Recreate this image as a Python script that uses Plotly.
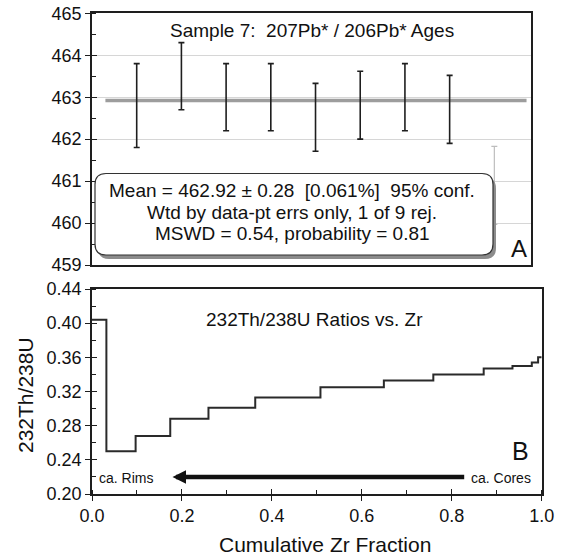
import plotly.graph_objects as go

W, H = 565, 556
FONT = "Liberation Sans, Arial, Helvetica, sans-serif"
DARK = "#1e1e1e"

# ---------------- Panel A data: 207Pb*/206Pb* ages ----------------
spot = [1, 2, 3, 4, 5, 6, 7, 8, 9]
age = [462.8, 463.5, 463.0, 463.0, 462.52, 462.81, 463.0, 462.71, 460.9]
age_err = [1.0, 0.8, 0.8, 0.8, 0.81, 0.81, 0.8, 0.81, 0.93]
rejected = [False, False, False, False, False, False, False, False, True]
mean_age = 462.92
mean_span = [0.3, 9.72]

# ---------------- Panel B data: Th/U vs cumulative Zr ----------------
zr_edges = [0.0, 0.032, 0.097, 0.174, 0.259, 0.363, 0.508, 0.649, 0.759,
            0.871, 0.935, 0.978, 0.992, 1.0]
thu = [0.404, 0.250, 0.268, 0.288, 0.301, 0.313, 0.325, 0.333, 0.340,
       0.347, 0.350, 0.354, 0.360]

info_lines = ["Mean = 462.92 \u00b1 0.28  [0.061%]  95% conf.",
              "Wtd by data-pt errs only, 1 of 9 rej.",
              "MSWD = 0.54, probability = 0.81"]


def px(x):
    return x / W


def py(y):
    return 1 - y / H


def rounded_path(x0, y0, x1, y1, r):
    def P(x, y):
        return f"{px(x):.5f},{py(y):.5f}"
    return (f"M {P(x0 + r, y0)} L {P(x1 - r, y0)} Q {P(x1, y0)} {P(x1, y0 + r)} "
            f"L {P(x1, y1 - r)} Q {P(x1, y1)} {P(x1 - r, y1)} "
            f"L {P(x0 + r, y1)} Q {P(x0, y1)} {P(x0, y1 - r)} "
            f"L {P(x0, y0 + r)} Q {P(x0, y0)} {P(x0 + r, y0)} Z")


fig = go.Figure()

# mean line
fig.add_trace(go.Scatter(x=mean_span, y=[mean_age, mean_age], mode="lines",
                         line=dict(color="#9d9d9d", width=3.5),
                         xaxis="x", yaxis="y", hoverinfo="skip"))

acc_x = [s for s, r in zip(spot, rejected) if not r]
acc_y = [a for a, r in zip(age, rejected) if not r]
acc_e = [e for e, r in zip(age_err, rejected) if not r]
rej_x = [s for s, r in zip(spot, rejected) if r]
rej_y = [a for a, r in zip(age, rejected) if r]
rej_e = [e for e, r in zip(age_err, rejected) if r]

fig.add_trace(go.Scatter(x=rej_x, y=rej_y, mode="markers",
                         marker=dict(size=1, color="rgba(0,0,0,0)"),
                         error_y=dict(type="data", array=rej_e, color="#bdbdbd",
                                      thickness=1.2, width=3),
                         xaxis="x", yaxis="y"))
fig.add_trace(go.Scatter(x=acc_x, y=acc_y, mode="markers",
                         marker=dict(size=1, color="rgba(0,0,0,0)"),
                         error_y=dict(type="data", array=acc_e, color=DARK,
                                      thickness=1.6, width=3),
                         xaxis="x", yaxis="y"))

# step line
fig.add_trace(go.Scatter(x=zr_edges, y=thu + [thu[-1]], mode="lines",
                         line=dict(color="#2a2a2a", width=2, shape="hv"),
                         xaxis="x2", yaxis="y2"))

# invisible traces to activate overlay tick axes
fig.add_trace(go.Scatter(x=[None], y=[None], xaxis="x", yaxis="y3", showlegend=False))
fig.add_trace(go.Scatter(x=[None], y=[None], xaxis="x3", yaxis="y2", showlegend=False))
fig.add_trace(go.Scatter(x=[None], y=[None], xaxis="x2", yaxis="y4", showlegend=False))

tickfont = dict(family=FONT, size=18, color="#111")
common = dict(showline=True, linecolor=DARK, linewidth=1.5, showgrid=False,
              zeroline=False, automargin=False, tickcolor=DARK, tickwidth=1.3)
overlay_common = dict(showline=False, showgrid=False, zeroline=False,
                      automargin=False, ticks="inside", ticklen=5, tickcolor=DARK,
                      tickwidth=1.3, showticklabels=False)

dxA = [92 / W, 531 / W]
dyA = [py(265), py(13.3)]
dxB = [92 / W, 541.7 / W]
dyB = [py(494), py(289)]

fig.update_layout(
    width=W, height=H, margin=dict(l=0, r=0, t=0, b=0),
    paper_bgcolor="white", plot_bgcolor="white", showlegend=False,
    font=dict(family=FONT, color="#111"),
    xaxis=dict(domain=dxA, anchor="y", range=[0, 9.82], showticklabels=False,
               ticks="", mirror=True, **common),
    yaxis=dict(domain=dyA, anchor="x", range=[459, 465], dtick=1, tick0=459,
               ticks="outside", ticklen=5, mirror=True, tickfont=tickfont,
               minor=dict(ticks="inside", ticklen=4, dtick=0.5, tick0=459,
                          tickcolor=DARK, showgrid=False),
               **{k: v for k, v in common.items() if k != "showgrid"},
               showgrid=True, gridcolor="#d6d6d6", gridwidth=1),
    yaxis3=dict(overlaying="y", side="left", anchor="x", range=[459, 465],
                dtick=1, tick0=459, **overlay_common),
    xaxis2=dict(domain=dxB, anchor="y2", range=[0, 1], dtick=0.2, tick0=0,
                tickformat=".1f", ticks="outside", ticklen=5, mirror=True,
                tickfont=tickfont,
                minor=dict(ticks="inside", ticklen=4, dtick=0.1, tick0=0,
                           tickcolor=DARK),
                **common),
    xaxis3=dict(overlaying="x2", side="bottom", anchor="y2", range=[0, 1],
                dtick=0.2, tick0=0, **overlay_common),
    yaxis2=dict(domain=dyB, anchor="x2", range=[0.2, 0.44], dtick=0.04, tick0=0.2,
                tickformat=".2f", ticks="outside", ticklen=5, mirror=True,
                tickfont=tickfont,
                minor=dict(ticks="inside", ticklen=4, dtick=0.02, tick0=0.2,
                           tickcolor=DARK),
                **common),
    yaxis4=dict(overlaying="y2", side="left", anchor="x2", range=[0.2, 0.44],
                dtick=0.04, tick0=0.2, **overlay_common),
)

# info box with shadow
bx0, by0, bx1, by1, rr = 95, 173.5, 493, 255, 11
fig.add_shape(type="path", xref="paper", yref="paper",
              path=rounded_path(bx0 + 3, by0 + 4, bx1 + 3, by1 + 4, rr),
              fillcolor="#8c8c8c", line=dict(width=0), layer="above")
fig.add_shape(type="path", xref="paper", yref="paper",
              path=rounded_path(bx0, by0, bx1, by1, rr),
              fillcolor="white", line=dict(color="#333", width=1.2), layer="above")

ann = []
for t, yy in zip(info_lines, [190.7, 212.3, 233.6]):
    ann.append(dict(text=t, x=px(292), y=py(yy), xref="paper", yref="paper",
                    xanchor="center", yanchor="middle", showarrow=False,
                    font=dict(size=19, family=FONT, color="#111")))

ann += [
    dict(text="Sample 7:  207Pb* / 206Pb* Ages", x=px(312), y=py(30),
         xref="paper", yref="paper", xanchor="center", yanchor="middle",
         showarrow=False, font=dict(size=19, family=FONT, color="#111")),
    dict(text="A", x=px(529), y=py(248), xref="paper", yref="paper",
         xanchor="right", yanchor="middle", showarrow=False,
         font=dict(size=24, family=FONT, color="#111")),
    dict(text="232Th/238U Ratios vs. Zr", x=px(314), y=py(319),
         xref="paper", yref="paper", xanchor="center", yanchor="middle",
         showarrow=False, font=dict(size=19, family=FONT, color="#111")),
    dict(text="B", x=px(531), y=py(451), xref="paper", yref="paper",
         xanchor="right", yanchor="middle", showarrow=False,
         font=dict(size=25, family=FONT, color="#111")),
    dict(text="ca. Rims", x=px(97), y=py(478), xref="paper", yref="paper",
         xanchor="left", yanchor="middle", showarrow=False,
         font=dict(size=14, family=FONT, color="#111")),
    dict(text="ca. Cores", x=px(533), y=py(478), xref="paper", yref="paper",
         xanchor="right", yanchor="middle", showarrow=False,
         font=dict(size=14, family=FONT, color="#111")),
    dict(text="", x=0.179, y=0.22, xref="x2", yref="y2",
         ax=0.831, ay=0.22, axref="x2", ayref="y2", showarrow=True,
         arrowhead=2, arrowsize=0.6, arrowwidth=4.5, arrowcolor="#111", standoff=0),
    dict(text="232Th/238U", x=px(25), y=py(395), xref="paper", yref="paper",
         xanchor="center", yanchor="middle", textangle=-90, showarrow=False,
         font=dict(size=21, family=FONT, color="#111")),
    dict(text="Cumulative Zr Fraction", x=px(325), y=py(544), xref="paper",
         yref="paper", xanchor="center", yanchor="middle", showarrow=False,
         font=dict(size=21, family=FONT, color="#111")),
]
fig.update_layout(annotations=ann)

fig.write_html("out.html")
